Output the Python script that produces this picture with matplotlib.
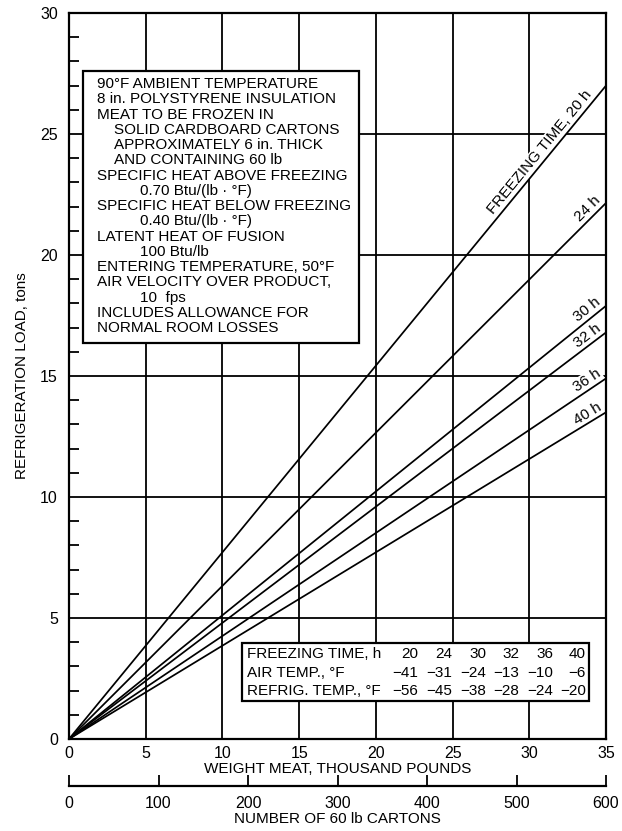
import numpy as np
import matplotlib
matplotlib.use("Agg")
import matplotlib.pyplot as plt
from matplotlib.patches import Rectangle
from matplotlib.ticker import MultipleLocator

plt.rcParams["font.family"] = ["Liberation Sans", "DejaVu Sans"]

# Freezing-time curves: refrigeration load (tons) reached at 35 000 lb of meat
freeze_hours = [20, 24, 30, 32, 36, 40]
load_at_max_weight = [27.0, 22.15, 17.9, 16.8, 14.9, 13.5]
max_weight = 35  # thousand pounds

# Table of conditions for each freezing time
air_temp = [-41, -31, -24, -13, -10, -6]
refrig_temp = [-56, -45, -38, -28, -24, -20]

x_ticks = [0, 5, 10, 15, 20, 25, 30, 35]
y_ticks = [0, 5, 10, 15, 20, 25, 30]
carton_ticks = [0, 100, 200, 300, 400, 500, 600]

notes = [
    ("90°F AMBIENT TEMPERATURE", 0),
    ("8 in. POLYSTYRENE INSULATION", 0),
    ("MEAT TO BE FROZEN IN", 0),
    ("SOLID CARDBOARD CARTONS", 1),
    ("APPROXIMATELY 6 in. THICK", 1),
    ("AND CONTAINING 60 lb", 1),
    ("SPECIFIC HEAT ABOVE FREEZING", 0),
    ("0.70 Btu/(lb · °F)", 2),
    ("SPECIFIC HEAT BELOW FREEZING", 0),
    ("0.40 Btu/(lb · °F)", 2),
    ("LATENT HEAT OF FUSION", 0),
    ("100 Btu/lb", 2),
    ("ENTERING TEMPERATURE, 50°F", 0),
    ("AIR VELOCITY OVER PRODUCT,", 0),
    ("10  fps", 2),
    ("INCLUDES ALLOWANCE FOR", 0),
    ("NORMAL ROOM LOSSES", 0),
]

W, H = 622, 831
FS = 11
LW = 1.3

fig = plt.figure(figsize=(W / 100, H / 100), dpi=100)
ax_l, ax_r, ax_t, ax_b = 69, 606, 13, 739
ax = fig.add_axes([ax_l / W, 1 - ax_b / H, (ax_r - ax_l) / W, (ax_b - ax_t) / H])


def px_to_data(px, py):
    """pixel (from top-left of the figure) -> data coordinates"""
    x = (px - ax_l) / (ax_r - ax_l) * 35
    y = (ax_b - py) / (ax_b - ax_t) * 30
    return x, y


ax.set_xlim(0, 35)
ax.set_ylim(0, 30)
ax.set_xticks(x_ticks)
ax.set_yticks(y_ticks)
ax.yaxis.set_minor_locator(MultipleLocator(1))
ax.tick_params(axis="both", which="both", direction="in", labelsize=11.5, width=LW)
ax.tick_params(axis="x", which="major", length=0, pad=5)
ax.tick_params(axis="y", which="major", length=0, pad=8)
ax.tick_params(axis="y", which="minor", length=7)
for s in ax.spines.values():
    s.set_linewidth(1.6)
ax.grid(True, which="major", color="black", linewidth=LW)
ax.set_axisbelow(True)

ax.set_xlabel("WEIGHT MEAT, THOUSAND POUNDS", fontsize=FS, va="center")
ax.xaxis.set_label_coords(0.5, (ax_b - 769) / (ax_b - ax_t))
ax.set_ylabel("REFRIGERATION LOAD, tons", fontsize=FS, va="center", ha="center")
ax.yaxis.set_label_coords((22 - ax_l) / (ax_r - ax_l), 0.5)

# Freezing-time lines and their labels
fig.canvas.draw()
for h, load in zip(freeze_hours, load_at_max_weight):
    ax.plot([0, max_weight], [0, load], color="black", linewidth=1.25,
            zorder=3, solid_capstyle="butt", clip_on=False)
    p0 = ax.transData.transform((0, 0))
    p1 = ax.transData.transform((max_weight, load))
    ang = np.degrees(np.arctan2(p1[1] - p0[1], p1[0] - p0[0]))
    if h == freeze_hours[0]:
        label, xa = f"FREEZING TIME, {h} h", 34.35
    else:
        label, xa = f"{h} h", 34.9
    ya = load / max_weight * xa
    off = 1.2
    ox, oy = -np.sin(np.radians(ang)) * off, np.cos(np.radians(ang)) * off
    ax.annotate(label, xy=(xa, ya), xytext=(ox, oy), textcoords="offset points",
                rotation=ang, rotation_mode="anchor", ha="right", va="bottom",
                fontsize=FS, zorder=2,
                bbox=dict(boxstyle="square,pad=0.08", fc="white", ec="none"))

# Notes box
bx0, by0 = px_to_data(83, 343)
bx1, by1 = px_to_data(359, 71)
ax.add_patch(Rectangle((bx0, by0), bx1 - bx0, by1 - by0, facecolor="white",
                       edgecolor="black", linewidth=1.6, zorder=5))
indent_px = [97, 114, 140]
for i, (line, lvl) in enumerate(notes):
    tx, ty = px_to_data(indent_px[lvl], 84 + i * 15.25)
    ax.text(tx, ty, line, fontsize=FS, ha="left", va="center", zorder=6)

# Conditions table
tx0, ty0 = px_to_data(242, 701)
tx1, ty1 = px_to_data(589, 643)
ax.add_patch(Rectangle((tx0, ty0), tx1 - tx0, ty1 - ty0, facecolor="white",
                       edgecolor="black", linewidth=1.6, zorder=5))
row_py = [654, 673, 691]
row_titles = ["FREEZING TIME, h", "AIR TEMP., °F", "REFRIG. TEMP., °F"]
col_px = [418, 452, 486, 519, 553, 586]


def fmt(v):
    return f"\u2212{abs(v)}" if v < 0 else f"{v}"


rows = [freeze_hours, air_temp, refrig_temp]
for title, py, vals in zip(row_titles, row_py, rows):
    lx, ly = px_to_data(247, py)
    ax.text(lx, ly, title, fontsize=FS, ha="left", va="center", zorder=6)
    for cpx, v in zip(col_px, vals):
        cx, _ = px_to_data(cpx, py)
        ax.text(cx, ly, fmt(v), fontsize=FS, ha="right", va="center", zorder=6)

# Secondary scale: number of 60 lb cartons
line_py = 786
ax2 = fig.add_axes([ax_l / W, 1 - line_py / H, (ax_r - ax_l) / W, 1e-4])
ax2.set_xlim(0, 600)
ax2.set_xticks(carton_ticks)
ax2.set_yticks([])
for side in ["top", "left", "right"]:
    ax2.spines[side].set_visible(False)
ax2.spines["bottom"].set_linewidth(1.6)
ax2.patch.set_alpha(0)
ax2.tick_params(axis="x", direction="in", length=8, width=LW, labelsize=11.5, pad=7)
fig.text(((ax_l + ax_r) / 2) / W, 1 - 819 / H, "NUMBER OF 60 lb CARTONS",
         fontsize=FS, ha="center", va="center")

fig.savefig("out.png", dpi=100)
